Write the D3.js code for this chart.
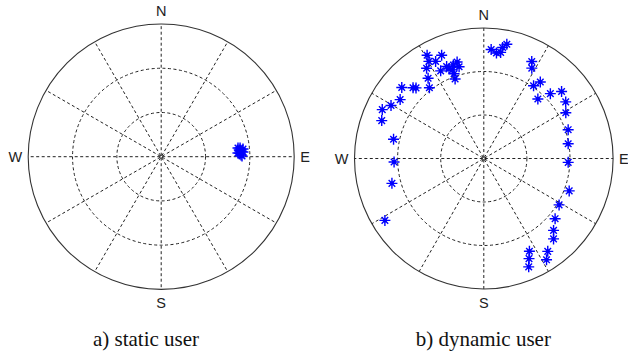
<!DOCTYPE html>
<html>
<head>
<meta charset="utf-8">
<script src="https://cdn.jsdelivr.net/npm/d3@7"></script>
<style>
  html, body { margin: 0; padding: 0; background: #fff; overflow: hidden; }
</style>
</head>
<body>
<div id="chart"></div>
<script>
// skyplot data: azimuth (deg, clockwise from N) and elevation (deg)
const directions = ["N", "E", "S", "W"];
const directionAngles = [0, 90, 180, 270];
const elevationRings = [60, 30];
const captions = ["a) static user", "b) dynamic user"];

const staticAz = [83.5, 85.9, 86.7, 88.8, 87.2, 83.7, 84.6, 89.5, 86.0, 87.5, 85.0];
const staticEl = [37.7, 36.5, 34.6, 36.0, 38.0, 36.3, 34.4, 35.3, 35.6, 36.8, 37.0];

const dynamicAz = [
    3.9, 6.9, 9.1, 9.7, 11.5,
    26.5, 28.2, 34.6, 36.7, 42.5, 46.0, 49.5, 55.6, 61.1, 71.3, 80.2, 92.6,
    110.6, 121.4, 129.9, 135.6, 138.8, 145.2, 148.0, 153.6, 155.5, 157.3,
    238.2, 255.0, 267.8, 281.9, 290.2, 295.5, 299.5, 304.9, 310.6, 314.7, 315.9,
    331.0, 337.6, 330.3, 327.4, 333.4, 333.6, 337.8, 338.6, 340.3, 344.4, 344.8,
    340.0, 325.0, 322.2, 341.8, 340.5
];
const dynamicEl = [
    14.7, 16.7, 15.9, 12.3, 9.6,
    15.2, 19.3, 29.0, 24.2, 34.3, 25.6, 18.8, 20.9, 24.8, 28.0, 30.4, 31.2,
    26.5, 28.6, 25.3, 20.6, 16.3, 12.0, 7.6, 18.6, 14.1, 9.0,
    9.0, 23.8, 27.5, 25.8, 14.3, 11.7, 15.8, 19.0, 14.8, 20.7, 22.2,
    8.6, 13.0, 12.9, 16.1, 15.1, 22.5, 21.5, 23.6, 25.1, 20.9, 24.4,
    31.6, 22.4, 28.2, 22.1, 28.0
];

const W = 628, H = 354;
const svg = d3.select("#chart").append("svg")
    .attr("width", W)
    .attr("height", H);

const panels = [
    { az: staticAz, el: staticEl, caption: captions[0], cx: 161.2, cy: 156.7, rx: 133, ry: 132.7, capX: 146 },
    { az: dynamicAz, el: dynamicEl, caption: captions[1], cx: 483.8, cy: 158.5, rx: 129.3, ry: 130.5, capX: 483.3 }
];

const rad = d => d * Math.PI / 180;
// elevation -> normalised radius
const r = d3.scaleLinear().domain([90, 0]).range([0, 1]);

function star(size) {
    const a = size, b = size * 0.6;
    return `M${-a},0L${a},0M0,${-a}L0,${a}M${-b},${-b}L${b},${b}M${-b},${b}L${b},${-b}`;
}

panels.forEach(p => {
    const x = d3.scaleLinear().domain([-1, 1]).range([p.cx - p.rx, p.cx + p.rx]);
    const y = d3.scaleLinear().domain([-1, 1]).range([p.cy + p.ry, p.cy - p.ry]);
    const g = svg.append("g");

    // dashed rings
    g.selectAll(".ring")
        .data(elevationRings)
        .enter()
        .append("ellipse")
        .attr("cx", x(0))
        .attr("cy", y(0))
        .attr("rx", d => x(r(d)) - x(0))
        .attr("ry", d => y(0) - y(r(d)))
        .attr("fill", "none")
        .attr("stroke", "#222")
        .attr("stroke-width", 1)
        .attr("stroke-dasharray", "3,2.5");

    // spokes every 30 deg
    g.selectAll(".spoke")
        .data(d3.range(0, 360, 30))
        .enter()
        .append("line")
        .attr("x1", x(0))
        .attr("y1", y(0))
        .attr("x2", d => x(Math.sin(rad(d))))
        .attr("y2", d => y(Math.cos(rad(d))))
        .attr("stroke", "#222")
        .attr("stroke-width", 1)
        .attr("stroke-dasharray", "3,2.5")
        .attr("stroke-dashoffset", -1);

    // horizon
    g.append("ellipse")
        .attr("cx", x(0))
        .attr("cy", y(0))
        .attr("rx", x(r(0)) - x(0))
        .attr("ry", y(0) - y(r(0)))
        .attr("fill", "none")
        .attr("stroke", "#333")
        .attr("stroke-width", 1.1);

    // compass labels
    g.selectAll(".dir")
        .data(directions)
        .enter()
        .append("text")
        .attr("x", (d, i) => {
            const a = directionAngles[i];
            if (a === 90) return x(1) + 6;
            if (a === 270) return x(-1) - 6;
            return x(0);
        })
        .attr("y", (d, i) => {
            const a = directionAngles[i];
            if (a === 0) return y(1) - 13;
            if (a === 180) return y(-1) + 14;
            return y(0);
        })
        .attr("text-anchor", (d, i) => directionAngles[i] === 90 ? "start" : directionAngles[i] === 270 ? "end" : "middle")
        .attr("dominant-baseline", "central")
        .style("font-family", "'Liberation Sans', Arial, sans-serif")
        .style("font-size", "14.5px")
        .attr("fill", "#222")
        .text(d => d);

    // satellite markers
    const pts = p.az.map((a, i) => ({ az: a, el: p.el[i] }));
    g.selectAll(".sat")
        .data(pts)
        .enter()
        .append("path")
        .attr("transform", d => `translate(${x(r(d.el) * Math.sin(rad(d.az)))},${y(r(d.el) * Math.cos(rad(d.az)))})`)
        .attr("d", star(5.5))
        .attr("fill", "none")
        .attr("stroke", "#0000ff")
        .attr("stroke-width", 1.4);

    g.selectAll(".dot")
        .data(pts)
        .enter()
        .append("circle")
        .attr("cx", d => x(r(d.el) * Math.sin(rad(d.az))))
        .attr("cy", d => y(r(d.el) * Math.cos(rad(d.az))))
        .attr("r", 2)
        .attr("fill", "#0000ff");

    svg.append("text")
        .attr("x", p.capX)
        .attr("y", 345.5)
        .attr("text-anchor", "middle")
        .style("font-family", "'Liberation Serif', 'Times New Roman', serif")
        .style("font-size", "21px")
        .attr("fill", "#111")
        .text(p.caption);
});
</script>
</body>
</html>
